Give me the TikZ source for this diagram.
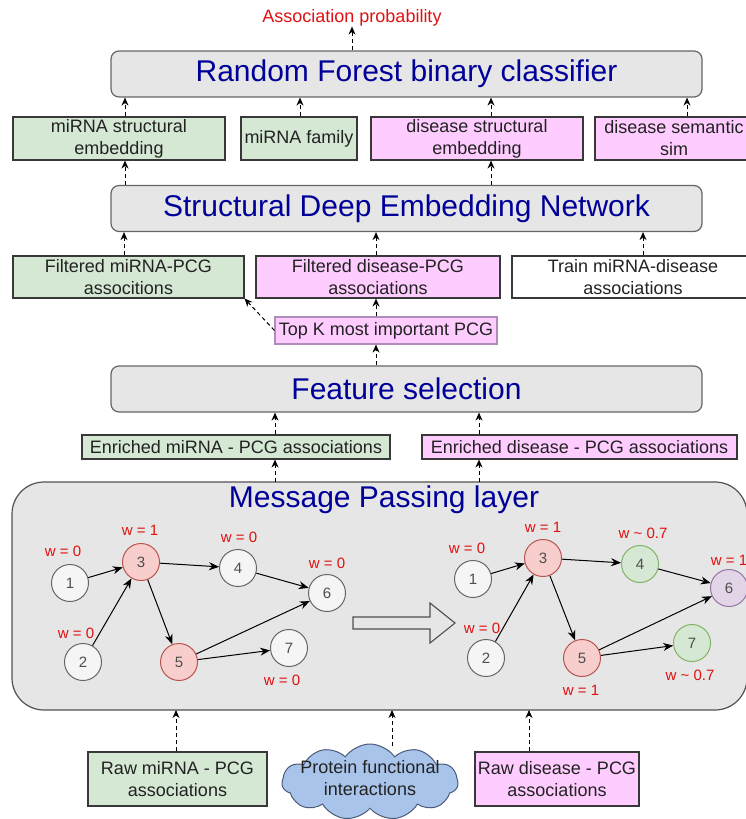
\documentclass[tikz,border=0pt]{standalone}
\usepackage{fontspec}
\setmainfont{Liberation Sans}
\usetikzlibrary{arrows.meta,shapes.symbols}
\definecolor{bgray}{HTML}{E6E6E6}
\definecolor{bborder}{HTML}{666666}
\definecolor{tblue}{HTML}{000099}
\definecolor{gfill}{HTML}{D5E8D4}
\definecolor{gline}{HTML}{82B366}
\definecolor{pfill}{HTML}{FFCCFF}
\definecolor{pline}{HTML}{B08CB8}
\definecolor{rfill}{HTML}{F8CECC}
\definecolor{rline}{HTML}{B85450}
\definecolor{nfill}{HTML}{F5F5F5}
\definecolor{vfill}{HTML}{E1D5E7}
\definecolor{vline}{HTML}{9673A6}
\definecolor{wred}{HTML}{E01010}
\definecolor{cfill}{HTML}{A9C4EB}
\definecolor{cline}{HTML}{4A5A78}
\definecolor{txt}{HTML}{222222}
\begin{document}
\begin{tikzpicture}[x=1pt,y=-1pt,
  bigbox/.style={draw=bborder,fill=bgray,rounded corners=8pt,line width=1.2pt,
    minimum height=46pt,inner sep=0pt,text=tblue,font=\fontsize{30}{36}\selectfont},
  fbox/.style={draw=txt!90,line width=1.1pt,inner sep=0pt,align=center,text=txt,
    font=\fontsize{18}{22}\selectfont},
  gbox/.style={fbox,fill=gfill},
  pbox/.style={fbox,fill=pfill},
  wbox/.style={fbox,fill=white},
  arr/.style={-{Stealth[length=8pt,width=7pt]},dash pattern=on 4pt off 3pt,line width=1pt,black},
  gnode/.style={circle,minimum size=37pt,inner sep=0pt,line width=1pt,text=txt!80,
    font=\fontsize{15}{15}\selectfont},
  nw/.style={gnode,draw=bborder,fill=nfill},
  nr/.style={gnode,draw=rline,fill=rfill},
  ng/.style={gnode,draw=gline,fill=gfill},
  nv/.style={gnode,draw=vline,fill=vfill},
  wlab/.style={text=wred,inner sep=0pt,font=\fontsize{15}{15}\selectfont},
  edge/.style={-{Stealth[length=10pt,width=8pt]},line width=1pt,black}]
\useasboundingbox (0,0) rectangle (745,819);

% column coordinates
\foreach \xx in {124,125,176,275,300,352,376,392,479,491,529,643,687}
  \coordinate (c\xx) at (\xx,0);

% top
\node[text=wred,font=\fontsize{18}{20}\selectfont,inner sep=0pt] (prob) at (352,18) {Association probability};
\node[bigbox,minimum width=591pt] (rf) at (406.5,74) {Random Forest binary classifier};

\node[gbox,minimum width=212pt,minimum height=43pt] (mstr) at (119,138.5) {miRNA structural\\embedding};
\node[gbox,minimum width=116pt,minimum height=43pt] (mfam) at (299,138.5) {miRNA family};
\node[pbox,minimum width=212pt,minimum height=43pt] (dstr) at (477,138.5) {disease structural\\embedding};
\node[pbox,minimum width=158pt,minimum height=43pt] (dsem) at (674,138.5) {disease semantic\\sim};

\node[bigbox,minimum width=591pt] (sden) at (406.5,208.5) {Structural Deep Embedding Network};

\node[gbox,minimum width=231pt,minimum height=42pt] (fmir) at (128.5,277) {Filtered miRNA-PCG\\associtions};
\node[pbox,minimum width=244pt,minimum height=42pt] (fdis) at (378,277) {Filtered disease-PCG\\associations};
\node[wbox,minimum width=242pt,minimum height=42pt] (train) at (633,277) {Train miRNA-disease\\associations};

\node[pbox,draw=pline,minimum width=222pt,minimum height=27pt] (topk) at (386,330.5) {Top K most important PCG};

\node[bigbox,minimum width=591pt] (fs) at (406.5,389) {Feature selection};

\node[gbox,minimum width=308pt,minimum height=24pt] (emir) at (236,447) {Enriched miRNA - PCG associations};
\node[pbox,minimum width=315pt,minimum height=24pt] (edis) at (579.5,447) {Enriched disease - PCG associations};

% message passing layer
\draw[draw=bborder!80!black,fill=bgray,line width=1.2pt,rounded corners=32pt] (12,482) rectangle (747,710);
\node[text=tblue,font=\fontsize{30}{36}\selectfont,inner sep=0pt] (mptitle) at (384,500) {Message Passing layer};
\coordinate (mptop) at (384,482);
\coordinate (mpbot) at (384,710);

% left graph
\node[nw] (a1) at (70,583) {1};
\node[nr] (a3) at (141,562) {3};
\node[nw] (a2) at (83,662) {2};
\node[nw] (a4) at (238,568) {4};
\node[nw] (a6) at (327,593) {6};
\node[nr] (a5) at (179,662) {5};
\node[nw] (a7) at (289,648) {7};
\draw[edge] (a1) -- (a3);
\draw[edge] (a2) -- (a3);
\draw[edge] (a3) -- (a4);
\draw[edge] (a3) -- (a5);
\draw[edge] (a4) -- (a6);
\draw[edge] (a5) -- (a6);
\draw[edge] (a5) -- (a7);
\node[wlab] (la1) at (63,551) {w = 0};
\node[wlab] (la3) at (140,530) {w = 1};
\node[wlab] (la4) at (239,537) {w = 0};
\node[wlab] (la6) at (327,563) {w = 0};
\node[wlab] (la2) at (76,633) {w = 0};
\node[wlab] (la7) at (282,680) {w = 0};

% hollow arrow
\draw[draw=txt!80,fill=bgray,line width=1.1pt] (353,617) -- (430,617) -- (430,603) -- (455,623) -- (430,643) -- (430,629) -- (353,629) -- cycle;

% right graph
\node[nw] (b1) at (473,579) {1};
\node[nr] (b3) at (543,558) {3};
\node[nw] (b2) at (486,658) {2};
\node[ng] (b4) at (640,564) {4};
\node[nv] (b6) at (729,588) {6};
\node[nr] (b5) at (582,658) {5};
\node[ng] (b7) at (692,643) {7};
\draw[edge] (b1) -- (b3);
\draw[edge] (b2) -- (b3);
\draw[edge] (b3) -- (b4);
\draw[edge] (b3) -- (b5);
\draw[edge] (b4) -- (b6);
\draw[edge] (b5) -- (b6);
\draw[edge] (b5) -- (b7);
\node[wlab] (lb1) at (467,548) {w = 0};
\node[wlab] (lb3) at (543,527) {w = 1};
\node[wlab] (lb4) at (643,533) {w \textasciitilde{} 0.7};
\node[wlab] (lb6) at (729,560) {w = 1};
\node[wlab] (lb2) at (482,628) {w = 0};
\node[wlab] (lb5) at (581,690) {w = 1};
\node[wlab] (lb7) at (690,675) {w \textasciitilde{} 0.7};

% bottom inputs
\node[gbox,minimum width=179pt,minimum height=54pt] (rmir) at (177.5,779) {Raw miRNA - PCG\\associations};
\node[cloud,cloud puffs=11,cloud puff arc=110,cloud ignores aspect,draw=cline,fill=cfill,line width=1pt,
  minimum width=176pt,minimum height=76pt,inner sep=0pt] (cloud) at (370,782) {};
\node[align=center,text=txt,inner sep=0pt,font=\fontsize{18}{22}\selectfont] (cloudtxt) at (370,778) {Protein functional\\interactions};
\node[pbox,minimum width=164pt,minimum height=54pt] (rdis) at (557,779) {Raw disease - PCG\\associations};
\coordinate (cloudtop) at (392,746);

% connectors
\draw[arr] (rf.north -| c352) -- (prob.south -| c352);
\draw[arr] (mstr.north -| c125) -- (rf.south -| c125);
\draw[arr] (mfam.north -| c300) -- (rf.south -| c300);
\draw[arr] (dstr.north -| c491) -- (rf.south -| c491);
\draw[arr] (dsem.north -| c687) -- (rf.south -| c687);
\draw[arr] (sden.north -| c125) -- (mstr.south -| c125);
\draw[arr] (sden.north -| c491) -- (dstr.south -| c491);
\draw[arr] (fmir.north -| c124) -- (sden.south -| c124);
\draw[arr] (fdis.north -| c376) -- (sden.south -| c376);
\draw[arr] (train.north -| c643) -- (sden.south -| c643);
\draw[arr] (topk.north -| c376) -- (fdis.south -| c376);
\draw[arr] (topk.west) -- (fmir.south east);
\draw[arr] (fs.north -| c376) -- (topk.south -| c376);
\draw[arr] (emir.north -| c275) -- (fs.south -| c275);
\draw[arr] (edis.north -| c479) -- (fs.south -| c479);
\draw[arr] (mptop -| c275) -- (emir.south -| c275);
\draw[arr] (mptop -| c479) -- (edis.south -| c479);
\draw[arr] (rmir.north -| c176) -- (mpbot -| c176);
\draw[arr] (cloudtop) -- (mpbot -| c392);
\draw[arr] (rdis.north -| c529) -- (mpbot -| c529);
\end{tikzpicture}
\end{document}
